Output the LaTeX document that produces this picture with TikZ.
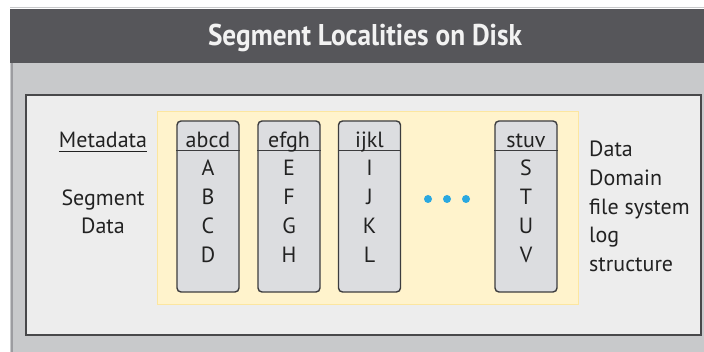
\documentclass[tikz,border=0pt]{standalone}
\usepackage{fontspec}
\setmainfont{PT Sans}
\newfontfamily\titlefont[FakeStretch=0.91]{PT Sans}
\usetikzlibrary{positioning}

\definecolor{headgray}{HTML}{56565A}
\definecolor{panelgray}{HTML}{C8C9CB}
\definecolor{edgegray}{HTML}{9C9CA0}
\definecolor{boxfill}{HTML}{EDEDED}
\definecolor{boxline}{HTML}{48484A}
\definecolor{yellowfill}{HTML}{FFF3CC}
\definecolor{yellowline}{HTML}{FCE6A0}
\definecolor{colfill}{HTML}{DCDDE0}
\definecolor{colline}{HTML}{3C3C3E}
\definecolor{textdark}{HTML}{222222}
\definecolor{dotblue}{HTML}{2AA8E0}

\tikzset{
  segcol/.style={draw=colline, line width=1.4pt, fill=colfill, rounded corners=4pt,
    minimum width=62pt, minimum height=171pt, inner sep=0pt},
  lbl/.style={font=\fontsize{22}{24}\selectfont, text=textdark, inner sep=0pt, anchor=base},
  titletext/.style={font=\titlefont\bfseries\fontsize{30}{34}\selectfont, text=white!95!black,
    inner sep=0pt, anchor=base},
  seqdot/.style={circle, fill=dotblue, minimum size=8pt, inner sep=0pt},
}

\begin{document}
\begin{tikzpicture}[x=1pt,y=-1pt]
  \useasboundingbox (0,0) rectangle (704,352);
  \fill[white] (0,0) rectangle (704,352);

  % outer panel and header bar
  \fill[panelgray] (10,63) rectangle (704,352);
  \draw[edgegray, line width=2pt] (12,63) -- (12,352);
  \draw[panelgray, line width=1pt] (10,7.5) -- (704,7.5);
  \node[fill=headgray, minimum width=694pt, minimum height=54pt, inner sep=0pt,
    anchor=north west] (head) at (10,9) {};
  \node[titletext] (title) at (365,45.5) {Segment Localities on Disk};

  % disk area and the yellow log region
  \draw[boxline, line width=2.2pt, fill=boxfill] (26,95) rectangle (701,335);
  \draw[yellowline, line width=1pt, fill=yellowfill] (157,112) rectangle (578,305);

  % left labels
  \node[lbl] (meta) at (103,148) {Metadata};
  \draw[textdark, line width=0.9pt] ([yshift=-3pt]meta.base west) -- ([yshift=-3pt]meta.base east);
  \node[lbl] (seg) at (103,206) {Segment};
  \node[lbl] (segdata) at (103,234) {Data};

  % segment containers
  \foreach \name/\cx/\la/\lb/\lc/\ld in {abcd/208/A/B/C/D, efgh/289/E/F/G/H,
      ijkl/369.5/I/J/K/L, stuv/526/S/T/U/V} {
    \node[segcol] (\name) at (\cx,206.5) {};
    \draw[colline, line width=1.2pt] ([yshift=-30pt]\name.north west) -- ([yshift=-30pt]\name.north east);
    \node[lbl] (\name-m) at (\cx,148) {\name};
    \node[lbl] (\name-1) at (\cx,176) {\la};
    \node[lbl] (\name-2) at (\cx,205) {\lb};
    \node[lbl] (\name-3) at (\cx,234) {\lc};
    \node[lbl] (\name-4) at (\cx,263) {\ld};
  }

  % more segments follow
  \node[seqdot] (d1) at (428,199) {};
  \node[seqdot] (d2) at (447,199) {};
  \node[seqdot] (d3) at (466,199) {};

  % right labels
  \foreach \txt/\by [count=\i] in {Data/157, Domain/186, file system/215, log/243, structure/272}
    \node[lbl, anchor=base west] (fs\i) at (589,\by) {\txt};
\end{tikzpicture}
\end{document}
